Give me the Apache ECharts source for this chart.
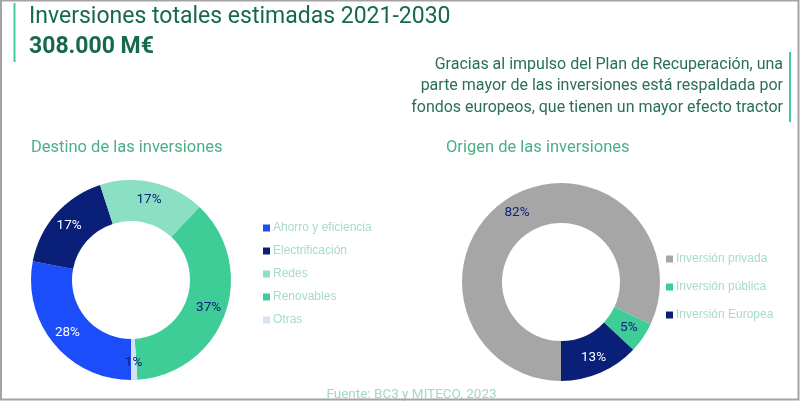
<!DOCTYPE html>
<html>
<head>
<meta charset="utf-8">
<script src="https://cdn.jsdelivr.net/npm/echarts@6/dist/echarts.min.js"></script>
<style>
html,body{margin:0;padding:0;background:#fff;}
#chart{width:800px;height:401px;}
</style>
</head>
<body>
<div id="chart"></div>
<script>
const destinoNames = ['Ahorro y eficiencia', 'Electrificación', 'Redes', 'Renovables', 'Otras'];
const destinoValues = [28, 17, 17, 37, 1];
const origenNames = ['Inversión privada', 'Inversión pública', 'Inversión Europea'];
const origenValues = [82, 5, 13];

const destinoColors = ['#1c4dfb', '#0a1f78', '#8be0c3', '#3ecd97', '#d3e3f4'];
const destinoLabelColors = ['#ffffff', '#ffffff', '#0d2475', '#0d2475', '#0d2475'];
const origenColors = ['#a6a6a6', '#3ecd97', '#0a1f78'];
const origenLabelColors = ['#0d2475', '#0d2475', '#ffffff'];

const FONT = 'Roboto';
const chart = echarts.init(document.getElementById('chart'), null, {renderer: 'canvas'});

function buildData(names, values, colors, labelColors) {
  return names.map((n, i) => ({
    name: n,
    value: values[i],
    itemStyle: {color: colors[i]},
    label: {color: labelColors[i]}
  }));
}

const pieCommon = {
  type: 'pie',
  startAngle: -90,
  clockwise: true,
  avoidLabelOverlap: false,
  silent: true,
  label: {show: true, position: 'inside', formatter: '{c}%', fontFamily: FONT, fontSize: 13.5},
  labelLine: {show: false},
  emphasis: {disabled: true}
};

const option = {
  animation: false,
  backgroundColor: '#ffffff',
  legend: [
    {
      data: destinoNames,
      orient: 'vertical',
      left: 258,
      top: 217,
      itemWidth: 7,
      itemHeight: 7,
      itemGap: 11,
      icon: 'rect',
      selectedMode: false,
      textStyle: {color: '#a6dcc6', fontFamily: 'Liberation Sans', fontSize: 12, padding: [0, 0, 0, -2]}
    },
    {
      data: origenNames,
      orient: 'vertical',
      left: 661,
      top: 248,
      itemWidth: 7,
      itemHeight: 7,
      itemGap: 16,
      icon: 'rect',
      selectedMode: false,
      textStyle: {color: '#a6dcc6', fontFamily: 'Liberation Sans', fontSize: 12, padding: [0, 0, 0, -2]}
    }
  ],
  series: [
    Object.assign({}, pieCommon, {
      name: 'Destino',
      center: [131, 280],
      radius: [59, 100],
      data: buildData(destinoNames, destinoValues, destinoColors, destinoLabelColors)
    }),
    Object.assign({}, pieCommon, {
      name: 'Origen',
      center: [561, 282],
      radius: [59, 99],
      data: buildData(origenNames, origenValues, origenColors, origenLabelColors)
    })
  ],
  graphic: [
    {type: 'rect', shape: {x: 13.5, y: 3, width: 2, height: 59}, style: {fill: '#3ecd97'}, z: 10},
    {type: 'rect', shape: {x: 789, y: 52, width: 2, height: 70}, style: {fill: '#3ecd97'}, z: 10},
    {type: 'text', x: 29, y: 17, style: {text: 'Inversiones totales estimadas 2021-2030', fill: '#17694d', font: '23px ' + FONT, textVerticalAlign: 'middle'}},
    {type: 'text', x: 29, y: 47.5, style: {text: '308.000 M€', fill: '#17694d', font: 'bold 23px ' + FONT, textVerticalAlign: 'middle'}},
    {type: 'text', x: 783, y: 86, style: {text: 'Gracias al impulso del Plan de Recuperación, una\nparte mayor de las inversiones está respaldada por\nfondos europeos, que tienen un mayor efecto tractor', fill: '#2a6e5b', font: '16px ' + FONT, lineHeight: 21.5, textAlign: 'right', textVerticalAlign: 'middle'}},
    {type: 'text', x: 31, y: 148, style: {text: 'Destino de las inversiones', fill: '#4cae84', font: '16.5px ' + FONT, textVerticalAlign: 'middle'}},
    {type: 'text', x: 446, y: 148, style: {text: 'Origen de las inversiones', fill: '#4cae84', font: '16.5px ' + FONT, textVerticalAlign: 'middle'}},
    {type: 'text', x: 411.5, y: 395, style: {text: 'Fuente: BC3 y MITECO, 2023', fill: '#a0d9c3', font: '13.5px ' + FONT, textAlign: 'center', textVerticalAlign: 'middle'}},
    {type: 'rect', shape: {x: 1, y: 0.5, width: 797.5, height: 399}, style: {fill: 'none', stroke: '#a3a3a3', lineWidth: 2}, z: 100}
  ]
};
chart.setOption(option);
</script>
</body>
</html>
